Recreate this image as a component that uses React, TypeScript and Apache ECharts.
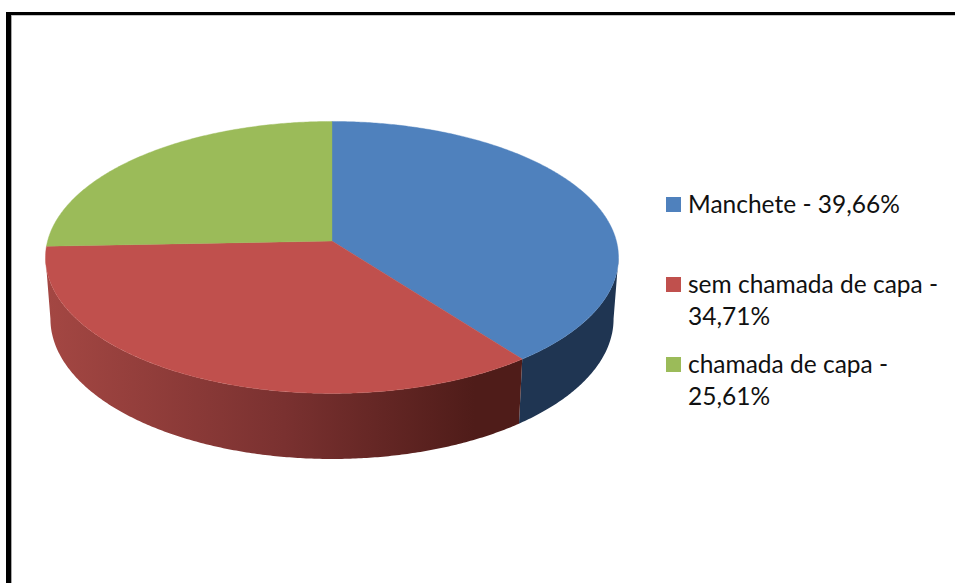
import React, { useEffect, useRef } from "react";
import * as echarts from "echarts";

const sliceNames = ["Manchete", "sem chamada de capa", "chamada de capa"];
const sliceValues = [39.66, 34.71, 25.61];
const sliceColors = ["#4F81BD", "#C0504D", "#9BBB59"];
const legendLines = [
  ["Manchete - 39,66%"],
  ["sem chamada de capa -", "34,71%"],
  ["chamada de capa -", "25,61%"],
];
const legendTops = [197, 277, 357];

// Projected disc: top face and bottom face of the 3D pie
const CX = 332;
const PERSPECTIVE = 0.1209;
const TOP = { a: 284.4, b: 134, y: 241 };
const BOTTOM = { a: 279.5, b: 138, y: 302 };

const project = (face: { a: number; b: number; y: number }, deg: number) => {
  const t = (deg * Math.PI) / 180;
  const u = Math.sin(t);
  const v = -Math.cos(t);
  const d = 1 - PERSPECTIVE * v;
  return [CX + (face.a * u) / d, face.y + (face.b * v) / d];
};

const arc = (face: any, from: number, to: number) => {
  const n = Math.max(2, Math.ceil(Math.abs(to - from) * 2));
  const pts: number[][] = [];
  for (let i = 0; i <= n; i++) pts.push(project(face, from + ((to - from) * i) / n));
  return pts;
};

// angles where the wall stops being visible (left and right silhouettes)
const WALL_FROM = 96.9;
const WALL_TO = 263;

const total = sliceValues.reduce((s, v) => s + v, 0);

const sideFill = (i: number): any => {
  if (i === 0) return "#1F3552";
  if (i === 1)
    return new echarts.graphic.LinearGradient(0, 0, 1, 0, [
      { offset: 0, color: "#A44743" },
      { offset: 0.5, color: "#7A3130" },
      { offset: 0.9, color: "#4F1C19" },
      { offset: 1, color: "#4F1C19" },
    ]);
  return "#5E7133";
};

const renderItem = (params: any, api: any) => {
  const i = params.dataIndex;
  let before = 0;
  for (let k = 0; k < i; k++) before += sliceValues[k];
  const start = (before / total) * 360;
  const end = ((before + api.value(0)) / total) * 360;
  const children: any[] = [];
  const wallStart = Math.max(start, WALL_FROM);
  const wallEnd = Math.min(end, WALL_TO);
  if (wallEnd > wallStart) {
    const fill = sideFill(i);
    children.push({
      type: "polygon",
      shape: {
        points: [...arc(TOP, wallStart, wallEnd), ...arc(BOTTOM, wallEnd, wallStart)],
      },
      style: { fill },
    });
  }
  children.push({
    type: "polygon",
    shape: { points: [[CX, TOP.y], ...arc(TOP, start, end)] },
    style: { fill: sliceColors[i], stroke: sliceColors[i], lineWidth: 0.4 },
  });
  return { type: "group", children };
};

const frame = [
  { x: 6, y: 12, width: 949, height: 3, fill: "#000000" },
  { x: 6, y: 12, width: 5, height: 571, fill: "#000000" },
  { x: 11, y: 15, width: 944, height: 1, fill: "#C4C4C4" },
  { x: 11, y: 15, width: 1, height: 568, fill: "#A8A8A8" },
];

export default function App() {
  const ref = useRef<HTMLDivElement>(null);
  useEffect(() => {
    document.body.style.margin = "0";
    const chart = echarts.init(ref.current!, undefined, { renderer: "svg" });
    const graphic: any[] = frame.map((f) => ({
      type: "rect",
      shape: { x: f.x, y: f.y, width: f.width, height: f.height },
      style: { fill: f.fill },
    }));
    legendLines.forEach((lines, i) => {
      graphic.push({
        type: "rect",
        shape: { x: 666, y: legendTops[i], width: 15, height: 15 },
        style: { fill: sliceColors[i] },
      });
      graphic.push({
        type: "text",
        x: 688,
        y: legendTops[i] - 10,
        style: {
          text: lines.join("\n"),
          font: '24.5px Lato, "Open Sans", sans-serif',
          fill: "#111111",
          lineHeight: 32,
          textVerticalAlign: "top",
        },
      });
    });
    chart.setOption({
      animation: false,
      backgroundColor: "#ffffff",
      graphic,
      series: [
        {
          type: "custom",
          coordinateSystem: "none",
          renderItem,
          data: sliceNames.map((name, i) => ({ name, value: [sliceValues[i]] })),
        },
      ],
    });
    return () => chart.dispose();
  }, []);
  return (
    <div
      ref={ref}
      style={{ position: "fixed", left: 0, top: 0, width: 955, height: 583 }}
    />
  );
}
